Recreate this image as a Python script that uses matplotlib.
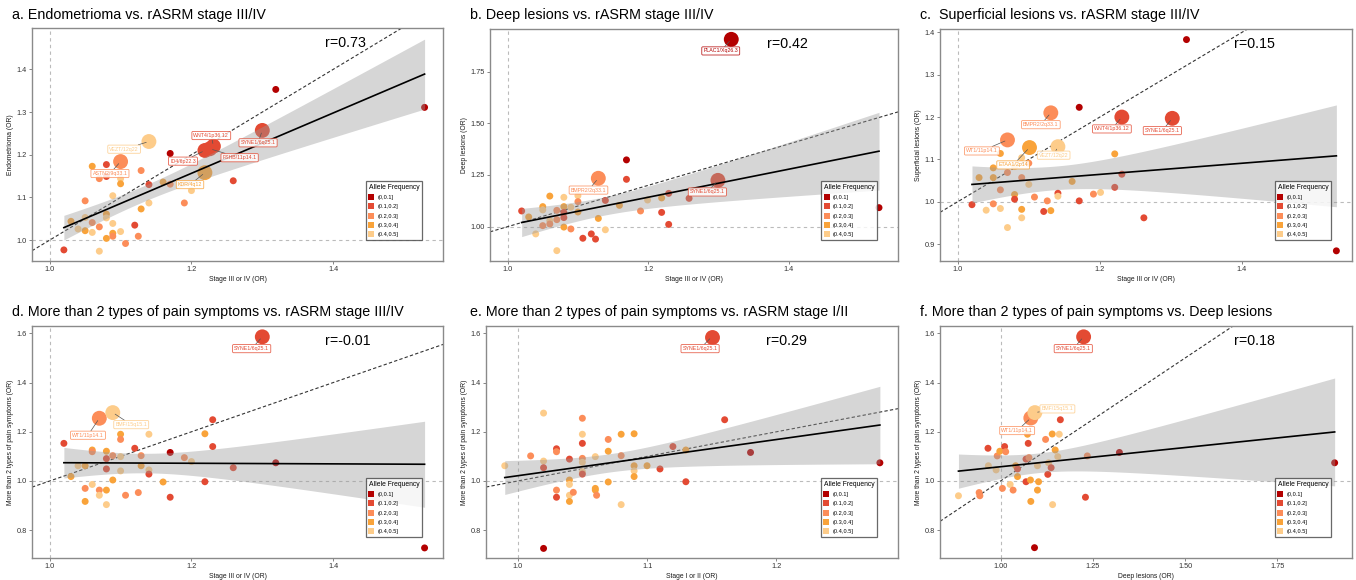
import numpy as np
import matplotlib.pyplot as plt
from matplotlib.lines import Line2D

plt.rcParams['font.family'] = ['Liberation Sans', 'DejaVu Sans']

# allele frequency classes 1..5
af_names = ['(0,0.1]', '(0.1,0.2]', '(0.2,0.3]', '(0.3,0.4]', '(0.4,0.5]']
af_colors = ['#B30000', '#E34A33', '#FC8D59', '#F9A33A', '#FDCC8A']

# ---- panel a: Endometrioma vs stage III/IV
a_x = [1.020, 1.030, 1.040, 1.050, 1.050, 1.050, 1.060, 1.060, 1.060, 1.070, 1.070, 1.070,
       1.080, 1.080, 1.080, 1.080, 1.080, 1.089, 1.089, 1.089, 1.089, 1.100, 1.100, 1.100,
       1.107, 1.120, 1.125, 1.129, 1.129, 1.140, 1.140, 1.160, 1.170, 1.170, 1.190, 1.200,
       1.259, 1.319, 1.529]
a_y = [0.977, 1.044, 1.026, 1.092, 1.053, 1.022, 1.173, 1.041, 1.018, 1.144, 1.031, 0.974,
       1.177, 1.149, 1.061, 1.052, 1.004, 1.104, 1.039, 1.016, 1.009, 1.144, 1.132, 1.020,
       0.992, 1.035, 1.009, 1.163, 1.073, 1.130, 1.087, 1.136, 1.203, 1.131, 1.087, 1.116,
       1.139, 1.353, 1.311]
a_af = [2, 4, 5, 3, 5, 4, 4, 3, 5, 3, 3, 5, 2, 2, 4, 5, 4, 5, 5, 4, 3, 5, 4, 5,
        3, 2, 3, 3, 4, 2, 5, 4, 1, 3, 3, 5, 2, 1, 1]
a_lab = ['VEZT/12q22', 'ASTN2/9q33.1', 'WNT4/1p36.12', 'ID4/6p22.3', 'FSHB/11p14.1', 'SYNE1/6q25.1', 'KDR/4q12']
a_lab_x = [1.140, 1.100, 1.231, 1.219, 1.226, 1.300, 1.219]
a_lab_y = [1.231, 1.184, 1.220, 1.210, 1.214, 1.257, 1.158]
a_lab_af = [5, 3, 2, 2, 2, 2, 4]
a_lab_pos = [(1.105, 1.213), (1.085, 1.156), (1.228, 1.245), (1.188, 1.185),
             (1.268, 1.193), (1.294, 1.228), (1.198, 1.130)]

# ---- panel b: Deep lesions vs stage III/IV
b_x = [1.020, 1.030, 1.040, 1.050, 1.050, 1.050, 1.060, 1.060, 1.060, 1.070, 1.070, 1.070,
       1.080, 1.080, 1.080, 1.080, 1.080, 1.090, 1.090, 1.100, 1.100, 1.100, 1.107, 1.119,
       1.125, 1.129, 1.139, 1.139, 1.159, 1.169, 1.169, 1.189, 1.199, 1.219, 1.219, 1.229,
       1.229, 1.258, 1.528]
b_y = [1.076, 1.047, 0.965, 1.097, 1.081, 1.005, 1.148, 1.029, 1.013, 1.079, 1.034, 0.884,
       1.142, 1.097, 1.069, 1.044, 0.998, 1.094, 0.989, 1.150, 1.121, 1.071, 0.944, 0.965,
       0.940, 1.040, 1.127, 0.985, 1.103, 1.323, 1.229, 1.076, 1.129, 1.139, 1.069, 1.161,
       1.011, 1.137, 1.092]
b_af = [2, 4, 5, 4, 5, 3, 4, 5, 3, 3, 3, 5, 5, 4, 2, 2, 4, 5, 3, 5, 3, 4, 2, 2,
        2, 4, 2, 5, 4, 1, 2, 3, 5, 4, 2, 2, 2, 2, 1]
b_lab = ['PLAC1/Xq26.3', 'BMPR2/2q33.1', 'SYNE1/6q25.1']
b_lab_x = [1.318, 1.129, 1.299]
b_lab_y = [1.906, 1.234, 1.224]
b_lab_af = [1, 3, 2]
b_lab_pos = [(1.303, 1.850), (1.115, 1.177), (1.284, 1.168)]

# ---- panel c: Superficial lesions vs stage III/IV
c_x = [1.020, 1.030, 1.040, 1.050, 1.050, 1.050, 1.060, 1.060, 1.060, 1.070, 1.070, 1.080,
       1.080, 1.080, 1.090, 1.090, 1.090, 1.090, 1.100, 1.100, 1.108, 1.121, 1.126, 1.131,
       1.141, 1.141, 1.161, 1.171, 1.171, 1.191, 1.201, 1.221, 1.221, 1.231, 1.262, 1.322,
       1.533]
c_y = [0.993, 1.057, 0.980, 1.080, 1.057, 0.995, 1.114, 1.028, 0.984, 1.069, 0.939, 1.083,
       1.017, 1.006, 1.104, 1.057, 0.982, 0.962, 1.091, 1.041, 1.011, 0.977, 1.002, 0.979,
       1.020, 1.013, 1.048, 1.223, 1.002, 1.018, 1.022, 1.113, 1.034, 1.065, 0.962, 1.383,
       0.884]
c_af = [2, 4, 5, 4, 4, 3, 4, 3, 5, 3, 5, 5, 4, 2, 5, 3, 4, 5, 3, 5, 3, 2, 3, 4,
        2, 5, 4, 1, 2, 3, 5, 4, 2, 2, 2, 1, 1]
c_lab = ['WT1/11p14.1', 'BMPR2/2q33.1', 'WNT4/1p36.12', 'SYNE1/6q25.1', 'ETAA1/2p14', 'VEZT/12q22']
c_lab_x = [1.070, 1.131, 1.231, 1.302, 1.101, 1.141]
c_lab_y = [1.146, 1.210, 1.200, 1.197, 1.128, 1.130]
c_lab_af = [3, 3, 2, 2, 4, 5]
c_lab_pos = [(1.034, 1.120), (1.117, 1.182), (1.217, 1.172), (1.288, 1.168),
             (1.078, 1.087), (1.135, 1.110)]

# ---- panel d: pain symptoms vs stage III/IV
d_x = [1.020, 1.030, 1.040, 1.050, 1.050, 1.050, 1.060, 1.060, 1.060, 1.070, 1.070, 1.080,
       1.080, 1.080, 1.080, 1.080, 1.089, 1.089, 1.100, 1.100, 1.100, 1.100, 1.107, 1.120,
       1.125, 1.129, 1.129, 1.140, 1.140, 1.140, 1.160, 1.170, 1.170, 1.190, 1.200, 1.219,
       1.219, 1.230, 1.230, 1.259, 1.319, 1.529]
d_y = [1.153, 1.018, 1.062, 1.062, 0.970, 0.917, 1.126, 1.119, 0.986, 0.963, 0.942, 1.121,
       1.091, 1.049, 0.963, 0.904, 1.103, 1.004, 1.190, 1.169, 1.099, 1.041, 0.942, 1.133,
       0.953, 1.103, 1.062, 1.190, 1.045, 1.028, 0.996, 1.116, 0.934, 1.095, 1.079, 1.192,
       0.997, 1.249, 1.140, 1.054, 1.074, 0.728]
d_af = [2, 4, 5, 4, 3, 4, 4, 3, 5, 3, 5, 4, 2, 2, 4, 5, 3, 4, 4, 3, 5, 5, 3, 2,
        3, 3, 4, 5, 5, 2, 4, 1, 2, 3, 5, 4, 2, 2, 2, 2, 1, 1]
d_lab = ['SYNE1/6q25.1', 'WT1/11p14.1', 'BMF/15q15.1']
d_lab_x = [1.300, 1.070, 1.089]
d_lab_y = [1.586, 1.255, 1.278]
d_lab_af = [2, 3, 5]
d_lab_pos = [(1.285, 1.538), (1.054, 1.186), (1.115, 1.229)]

# ---- panel e: pain symptoms vs stage I/II
e_x = [0.990, 1.010, 1.020, 1.020, 1.020, 1.020, 1.030, 1.030, 1.030, 1.030, 1.040, 1.040,
       1.040, 1.040, 1.040, 1.043, 1.050, 1.050, 1.050, 1.050, 1.050, 1.050, 1.050, 1.060,
       1.060, 1.060, 1.061, 1.070, 1.070, 1.070, 1.080, 1.080, 1.080, 1.090, 1.090, 1.090,
       1.090, 1.100, 1.110, 1.120, 1.130, 1.130, 1.160, 1.180, 1.280]
e_y = [1.062, 1.102, 1.276, 1.081, 1.054, 0.726, 1.131, 1.119, 0.963, 0.934, 1.089, 1.004,
       0.986, 0.942, 0.917, 0.954, 1.255, 1.190, 1.153, 1.092, 1.076, 1.038, 1.028, 1.099,
       0.970, 0.963, 0.942, 1.169, 1.121, 0.996, 1.190, 1.103, 0.904, 1.192, 1.062, 1.041,
       1.018, 1.062, 1.049, 1.140, 1.126, 0.997, 1.249, 1.116, 1.074]
e_af = [5, 3, 5, 5, 2, 1, 2, 3, 3, 2, 2, 4, 5, 5, 4, 3, 3, 5, 2, 3, 5, 5, 2, 5,
        4, 4, 3, 3, 4, 4, 4, 3, 5, 4, 4, 5, 4, 4, 2, 2, 4, 2, 2, 1, 1]
e_lab = ['SYNE1/6q25.1']
e_lab_x = [1.150]
e_lab_y = [1.586]
e_lab_af = [2]
e_lab_pos = [(1.141, 1.538)]

# ---- panel f: pain symptoms vs deep lesions
f_x = [0.886, 0.942, 0.944, 0.966, 0.967, 0.988, 0.991, 0.998, 1.005, 1.011, 1.014, 1.026,
       1.034, 1.041, 1.046, 1.046, 1.069, 1.069, 1.073, 1.075, 1.077, 1.081, 1.082, 1.092,
       1.100, 1.100, 1.103, 1.122, 1.128, 1.130, 1.137, 1.140, 1.141, 1.148, 1.155, 1.159,
       1.162, 1.230, 1.235, 1.322, 1.905]
f_y = [0.940, 0.953, 0.940, 1.133, 1.062, 1.045, 1.102, 1.121, 0.970, 1.140, 1.119, 0.986,
       0.963, 1.062, 1.018, 1.049, 1.089, 0.997, 1.190, 1.153, 1.095, 1.004, 0.917, 0.729,
       1.062, 0.963, 0.997, 1.169, 1.027, 1.074, 1.054, 1.191, 0.904, 1.126, 1.099, 1.190,
       1.249, 0.934, 1.102, 1.116, 1.074]
f_af = [5, 3, 3, 2, 5, 5, 3, 4, 3, 2, 3, 5, 3, 4, 4, 2, 2, 2, 4, 2, 3, 4, 4, 1,
        5, 4, 4, 3, 2, 5, 2, 4, 5, 4, 5, 5, 2, 2, 3, 1, 1]
f_lab = ['SYNE1/6q25.1', 'WT1/11p14.1', 'BMF/15q15.1']
f_lab_x = [1.225, 1.082, 1.093]
f_lab_y = [1.586, 1.256, 1.278]
f_lab_af = [2, 3, 5]
f_lab_pos = [(1.197, 1.538), (1.045, 1.205), (1.154, 1.293)]

panels = [
    dict(title='a. Endometrioma vs. rASRM stage III/IV', r='r=0.73',
         x=a_x, y=a_y, af=a_af, lab=a_lab, lx=a_lab_x, ly=a_lab_y, laf=a_lab_af, lpos=a_lab_pos,
         xlabel='Stage III or IV (OR)', ylabel='Endometrioma (OR)',
         rect=[32, 28, 443, 261], xlim=(0.975, 1.555), ylim=(0.951, 1.497),
         xt=[1.0, 1.2, 1.4], yt=[1.0, 1.1, 1.2, 1.3, 1.4], fmt='%.1f', rx=0.713, tx=12),
    dict(title='b. Deep lesions vs. rASRM stage III/IV', r='r=0.42',
         x=b_x, y=b_y, af=b_af, lab=b_lab, lx=b_lab_x, ly=b_lab_y, laf=b_lab_af, lpos=b_lab_pos,
         xlabel='Stage III or IV (OR)', ylabel='Deep lesions (OR)',
         rect=[490, 29, 898, 261], xlim=(0.975, 1.555), ylim=(0.834, 1.956),
         xt=[1.0, 1.2, 1.4], yt=[1.0, 1.25, 1.5, 1.75], fmt='%.1f', yfmt2=True, rx=0.678, tx=470),
    dict(title='c.  Superficial lesions vs. rASRM stage III/IV', r='r=0.15',
         x=c_x, y=c_y, af=c_af, lab=c_lab, lx=c_lab_x, ly=c_lab_y, laf=c_lab_af, lpos=c_lab_pos,
         xlabel='Stage III or IV (OR)', ylabel='Superficial lesions (OR)',
         rect=[940, 29, 1352, 261], xlim=(0.975, 1.555), ylim=(0.86, 1.408),
         xt=[1.0, 1.2, 1.4], yt=[0.9, 1.0, 1.1, 1.2, 1.3, 1.4], fmt='%.1f', rx=0.714, tx=920),
    dict(title='d. More than 2 types of pain symptoms vs. rASRM stage III/IV', r='r=-0.01',
         x=d_x, y=d_y, af=d_af, lab=d_lab, lx=d_lab_x, ly=d_lab_y, laf=d_lab_af, lpos=d_lab_pos,
         xlabel='Stage III or IV (OR)', ylabel='More than 2 types of pain symptoms (OR)',
         rect=[32, 326, 443, 558], xlim=(0.975, 1.555), ylim=(0.687, 1.63),
         xt=[1.0, 1.2, 1.4], yt=[0.8, 1.0, 1.2, 1.4, 1.6], fmt='%.1f', rx=0.713, tx=12),
    dict(title='e. More than 2 types of pain symptoms vs. rASRM stage I/II', r='r=0.29',
         x=e_x, y=e_y, af=e_af, lab=e_lab, lx=e_lab_x, ly=e_lab_y, laf=e_lab_af, lpos=e_lab_pos,
         xlabel='Stage I or II (OR)', ylabel='More than 2 types of pain symptoms (OR)',
         rect=[486, 326, 898, 558], xlim=(0.9755, 1.294), ylim=(0.687, 1.63),
         xt=[1.0, 1.1, 1.2], yt=[0.8, 1.0, 1.2, 1.4, 1.6], fmt='%.1f', rx=0.68, tx=470),
    dict(title='f. More than 2 types of pain symptoms vs. Deep lesions', r='r=0.18',
         x=f_x, y=f_y, af=f_af, lab=f_lab, lx=f_lab_x, ly=f_lab_y, laf=f_lab_af, lpos=f_lab_pos,
         xlabel='Deep lesions (OR)', ylabel='More than 2 types of pain symptoms (OR)',
         rect=[940, 326, 1352, 558], xlim=(0.836, 1.952), ylim=(0.687, 1.63),
         xt=[1.0, 1.25, 1.5, 1.75], yt=[0.8, 1.0, 1.2, 1.4, 1.6], fmt='%.2f', rx=0.714, tx=920),
]

W, H = 1356, 580
fig = plt.figure(figsize=(W / 100, H / 100), dpi=100)


def fit_band(x, y, t=2.01):
    # ordinary least squares line with 95% confidence band (like geom_smooth(method='lm'))
    n = len(x)
    b1, b0 = np.polyfit(x, y, 1)
    xs = np.linspace(x.min(), x.max(), 100)
    yhat = b0 + b1 * xs
    resid = y - (b0 + b1 * x)
    s = np.sqrt(np.sum(resid ** 2) / (n - 2))
    sxx = np.sum((x - x.mean()) ** 2)
    se = s * np.sqrt(1 / n + (xs - x.mean()) ** 2 / sxx)
    return xs, yhat, yhat - t * se, yhat + t * se


for p in panels:
    l, t, r, b = p['rect']
    ax = fig.add_axes([l / W, 1 - b / H, (r - l) / W, (b - t) / H])
    x = np.array(p['x'] + p['lx'])
    y = np.array(p['y'] + p['ly'])

    ax.axvline(1.0, color='#bbbbbb', ls=(0, (3, 3)), lw=0.8, zorder=1)
    ax.axhline(1.0, color='#bbbbbb', ls=(0, (3, 3)), lw=0.8, zorder=1)
    ax.axline((1.0, 1.0), slope=1, color='#333333', ls=(0, (3, 2)), lw=0.8, zorder=2)

    cols = [af_colors[k - 1] for k in p['af']]
    ax.scatter(p['x'], p['y'], s=25, c=cols, lw=0, zorder=3)
    lcols = [af_colors[k - 1] for k in p['laf']]
    ax.scatter(p['lx'], p['ly'], s=115, c=lcols, lw=0, zorder=3)

    xs, yh, lo, hi = fit_band(x, y)
    ax.fill_between(xs, lo, hi, color='#999999', alpha=0.4, lw=0, zorder=4)
    ax.plot(xs, yh, color='black', lw=1.2, zorder=5)

    for name, px, py, k, pos in zip(p['lab'], p['lx'], p['ly'], p['laf'], p['lpos']):
        c = af_colors[k - 1]
        ax.annotate(name, xy=(px, py), xytext=pos, fontsize=3.8, color=c,
                    ha='center', va='center', zorder=6,
                    bbox=dict(boxstyle='round,pad=0.3,rounding_size=0.2', fc='white', ec=c, lw=0.6, alpha=0.85),
                    arrowprops=dict(arrowstyle='-', color='#555555', lw=0.5, shrinkA=0, shrinkB=2))

    ax.set_xlim(*p['xlim'])
    ax.set_ylim(*p['ylim'])
    ax.set_xticks(p['xt'])
    ax.set_xticklabels([p['fmt'] % v for v in p['xt']])
    ax.set_yticks(p['yt'])
    yfmt = '%.2f' if p.get('yfmt2') else '%.1f'
    ax.set_yticklabels([yfmt % v for v in p['yt']])
    ax.tick_params(labelsize=5.3, length=2, width=0.5, color='#555555', labelcolor='#333333', pad=1.5)
    ax.set_xlabel(p['xlabel'], fontsize=4.9, color='#1a1a1a', labelpad=2)
    ax.set_ylabel(p['ylabel'], fontsize=4.9, color='#1a1a1a', labelpad=2)
    for sp in ax.spines.values():
        sp.set_color('#8a8a8a')
        sp.set_linewidth(1.0)

    ax.text(p['rx'], 0.935, p['r'], transform=ax.transAxes, fontsize=10.3,
            ha='left', va='center', zorder=7)
    fig.text(p['tx'] / W, 1 - (15 if t < 100 else 312) / H, p['title'],
             fontsize=10.3, ha='left', va='center')

    handles = [Line2D([], [], marker='s', ls='', markersize=4, markerfacecolor=c,
                      markeredgewidth=0) for c in af_colors]
    leg = ax.legend(handles, af_names, title='Allele Frequency', loc='lower right',
                    bbox_to_anchor=(0.956, 0.078), fontsize=4.1, title_fontsize=4.9,
                    frameon=True, fancybox=False, handlelength=1.0, handletextpad=0.6,
                    labelspacing=0.75, borderpad=0.5, alignment='left')
    leg.get_frame().set_edgecolor('#444444')
    leg.get_frame().set_linewidth(0.9)
    leg.set_zorder(8)

fig.savefig('out.png', dpi=100)
